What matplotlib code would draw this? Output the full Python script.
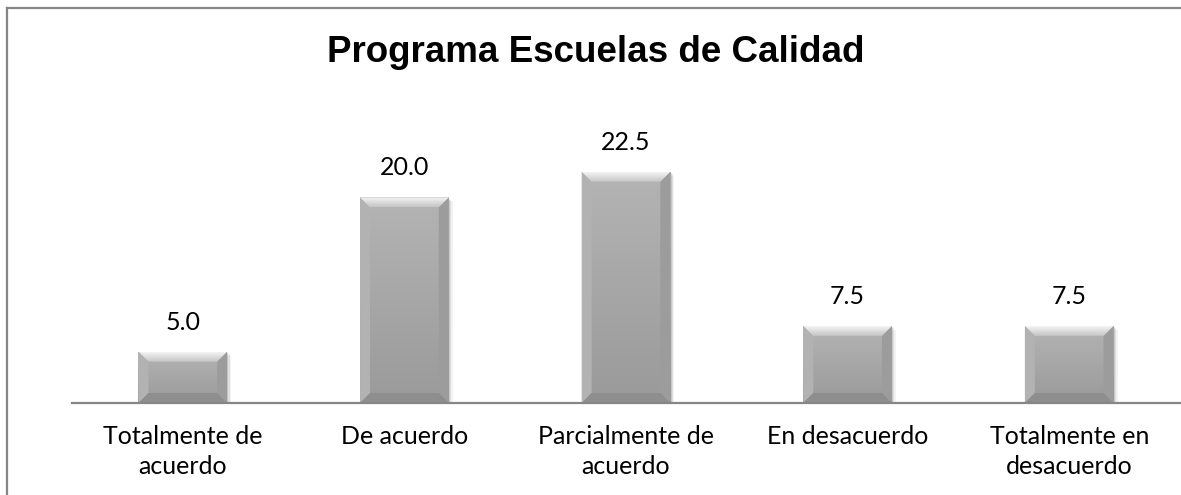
import numpy as np
import matplotlib
matplotlib.use("Agg")
import matplotlib.pyplot as plt
from matplotlib.patches import Polygon, Rectangle
from matplotlib.lines import Line2D
from matplotlib.colors import LinearSegmentedColormap

categories = ["Totalmente de\nacuerdo", "De acuerdo", "Parcialmente de\nacuerdo",
              "En desacuerdo", "Totalmente en\ndesacuerdo"]
values = [5.0, 20.0, 22.5, 7.5, 7.5]
title = "Programa Escuelas de Calidad"

W, H = 1181, 495
fig = plt.figure(figsize=(W / 100, H / 100), dpi=100)
fig.patch.set_facecolor("white")
ax = fig.add_axes([72 / W, 92 / H, 1108 / W, 257 / H])
ax.set_xlim(-0.5, len(values) - 0.5)
ax.set_ylim(0, 25)
x = np.arange(len(values))

bars = ax.bar(x, values, width=0.40, color="#a8a8a8", zorder=2, linewidth=0)

fig.canvas.draw()
p0 = ax.transData.transform((0, 0))
p1 = ax.transData.transform((1, 1))
px_x = 1.0 / (p1[0] - p0[0])
px_y = 1.0 / (p1[1] - p0[1])
bev = 10

grad = np.linspace(0, 1, 256).reshape(-1, 1)
cmap = LinearSegmentedColormap.from_list("g", ["#9a9a9a", "#b4b4b4"])
topcmap = LinearSegmentedColormap.from_list("t", ["#c4c4c4", "#f4f4f4"])

for b in bars:
    x0 = b.get_x(); w = b.get_width(); h = b.get_height(); x1 = x0 + w
    for k, a in ((4, 0.05), (2.5, 0.08), (1.2, 0.10)):
        sh = Rectangle((x0 + k * px_x, 0), w, h - k * px_y, facecolor="#000000",
                       alpha=a, linewidth=0, zorder=1.5)
        ax.add_patch(sh)
    im = ax.imshow(grad, extent=(x0, x1, 0, h), origin="lower", cmap=cmap,
                   aspect="auto", zorder=2.1, interpolation="bilinear")
    im.set_clip_path(b)
    dx = bev * px_x; dy = bev * px_y
    left = Polygon([(x0, 0), (x0, h), (x0 + dx, h - dy), (x0 + dx, dy)],
                   closed=True, facecolor="#b2b2b2", linewidth=0, zorder=2.2)
    right = Polygon([(x1, 0), (x1, h), (x1 - dx, h - dy), (x1 - dx, dy)],
                    closed=True, facecolor="#9c9c9c", linewidth=0, zorder=2.2)
    bot = Polygon([(x0, 0), (x1, 0), (x1 - dx, dy), (x0 + dx, dy)],
                  closed=True, facecolor="#8e8e8e", linewidth=0, zorder=2.2)
    top = Polygon([(x0, h), (x1, h), (x1 - dx, h - dy), (x0 + dx, h - dy)],
                  closed=True, facecolor="none", linewidth=0, zorder=2.3)
    for p in (left, right, bot, top):
        ax.add_patch(p)
    tim = ax.imshow(grad, extent=(x0, x1, h - dy, h), origin="lower", cmap=topcmap,
                    aspect="auto", zorder=2.3, interpolation="bilinear")
    tim.set_clip_path(top)
    ax.annotate(f"{h:.1f}", (b.get_x() + w / 2, h), xytext=(0, 13),
                textcoords="offset points", ha="center", va="bottom",
                fontsize=18, family="Lato", color="#000000")

ax.set_xticks(x)
ax.set_xticklabels(categories, fontsize=18, family="Lato", linespacing=1.38)
ax.tick_params(axis="x", length=0, pad=16)
ax.set_yticks([])
for s in ("top", "left", "right"):
    ax.spines[s].set_visible(False)
ax.spines["bottom"].set_color("#868686")
ax.spines["bottom"].set_linewidth(1.6)
ax.spines["bottom"].set_zorder(3)

fig.text(596 / W, 1 - 52 / H, title, ha="center", va="center",
         fontsize=26.5, fontweight="bold", family="Liberation Sans")

fig.add_artist(Line2D([6.5 / W, 6.5 / W], [0, 1 - 7.5 / H], color="#868686", lw=1.6,
                      transform=fig.transFigure))
fig.add_artist(Line2D([6.5 / W, 1], [1 - 7.5 / H, 1 - 7.5 / H], color="#868686", lw=1.6,
                      transform=fig.transFigure))

fig.savefig("out.png", dpi=100)
